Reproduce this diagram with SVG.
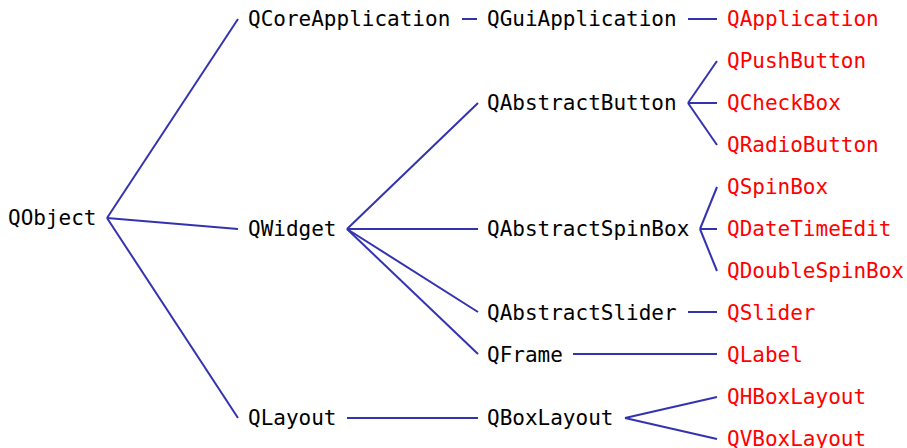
<svg xmlns="http://www.w3.org/2000/svg" width="907" height="448" viewBox="0 0 907 448">
<style>
text{font-family:"DejaVu Sans Mono","Liberation Mono",monospace;font-size:21px}
.b{fill:#000}
.r{fill:#ff0000}
#edges line{stroke:#3333b0;stroke-width:2;stroke-linecap:butt}
</style>
<rect width="907" height="448" fill="#fff"/>
<g id="edges">
<line x1="107" y1="218" x2="238" y2="19"/>
<line x1="107" y1="218" x2="238" y2="229"/>
<line x1="107" y1="218" x2="238" y2="418"/>
<line x1="462" y1="19" x2="477" y2="19"/>
<line x1="688" y1="19" x2="717" y2="19"/>
<line x1="347" y1="229" x2="478" y2="103"/>
<line x1="347" y1="229" x2="478" y2="229"/>
<line x1="347" y1="229" x2="478" y2="312"/>
<line x1="347" y1="229" x2="478" y2="354"/>
<line x1="347" y1="418" x2="478" y2="418"/>
<line x1="688" y1="103" x2="717" y2="61"/>
<line x1="688" y1="103" x2="717" y2="103"/>
<line x1="688" y1="103" x2="717" y2="145"/>
<line x1="700" y1="229" x2="717" y2="187"/>
<line x1="700" y1="229" x2="717" y2="229"/>
<line x1="700" y1="229" x2="717" y2="271"/>
<line x1="688" y1="312" x2="717" y2="312"/>
<line x1="573" y1="354" x2="717" y2="354"/>
<line x1="625" y1="418" x2="717" y2="397"/>
<line x1="625" y1="418" x2="717" y2="439"/>
</g>
<g id="QObject"><text class="b" x="8" y="225">QObject</text></g>
<g id="QCoreApplication"><text class="b" x="248" y="26">QCoreApplication</text></g>
<g id="QWidget"><text class="b" x="248" y="236">QWidget</text></g>
<g id="QLayout"><text class="b" x="248" y="425">QLayout</text></g>
<g id="QGuiApplication"><text class="b" x="487" y="26">QGuiApplication</text></g>
<g id="QAbstractButton"><text class="b" x="487" y="110">QAbstractButton</text></g>
<g id="QAbstractSpinBox"><text class="b" x="487" y="236">QAbstractSpinBox</text></g>
<g id="QAbstractSlider"><text class="b" x="487" y="320">QAbstractSlider</text></g>
<g id="QFrame"><text class="b" x="487" y="362">QFrame</text></g>
<g id="QBoxLayout"><text class="b" x="487" y="425">QBoxLayout</text></g>
<g id="QApplication"><text class="r" x="727" y="26">QApplication</text></g>
<g id="QPushButton"><text class="r" x="727" y="68">QPushButton</text></g>
<g id="QCheckBox"><text class="r" x="727" y="110">QCheckBox</text></g>
<g id="QRadioButton"><text class="r" x="727" y="152">QRadioButton</text></g>
<g id="QSpinBox"><text class="r" x="727" y="194">QSpinBox</text></g>
<g id="QDateTimeEdit"><text class="r" x="727" y="236">QDateTimeEdit</text></g>
<g id="QDoubleSpinBox"><text class="r" x="727" y="278">QDoubleSpinBox</text></g>
<g id="QSlider"><text class="r" x="727" y="320">QSlider</text></g>
<g id="QLabel"><text class="r" x="727" y="362">QLabel</text></g>
<g id="QHBoxLayout"><text class="r" x="727" y="404">QHBoxLayout</text></g>
<g id="QVBoxLayout"><text class="r" x="727" y="446">QVBoxLayout</text></g>
</svg>
